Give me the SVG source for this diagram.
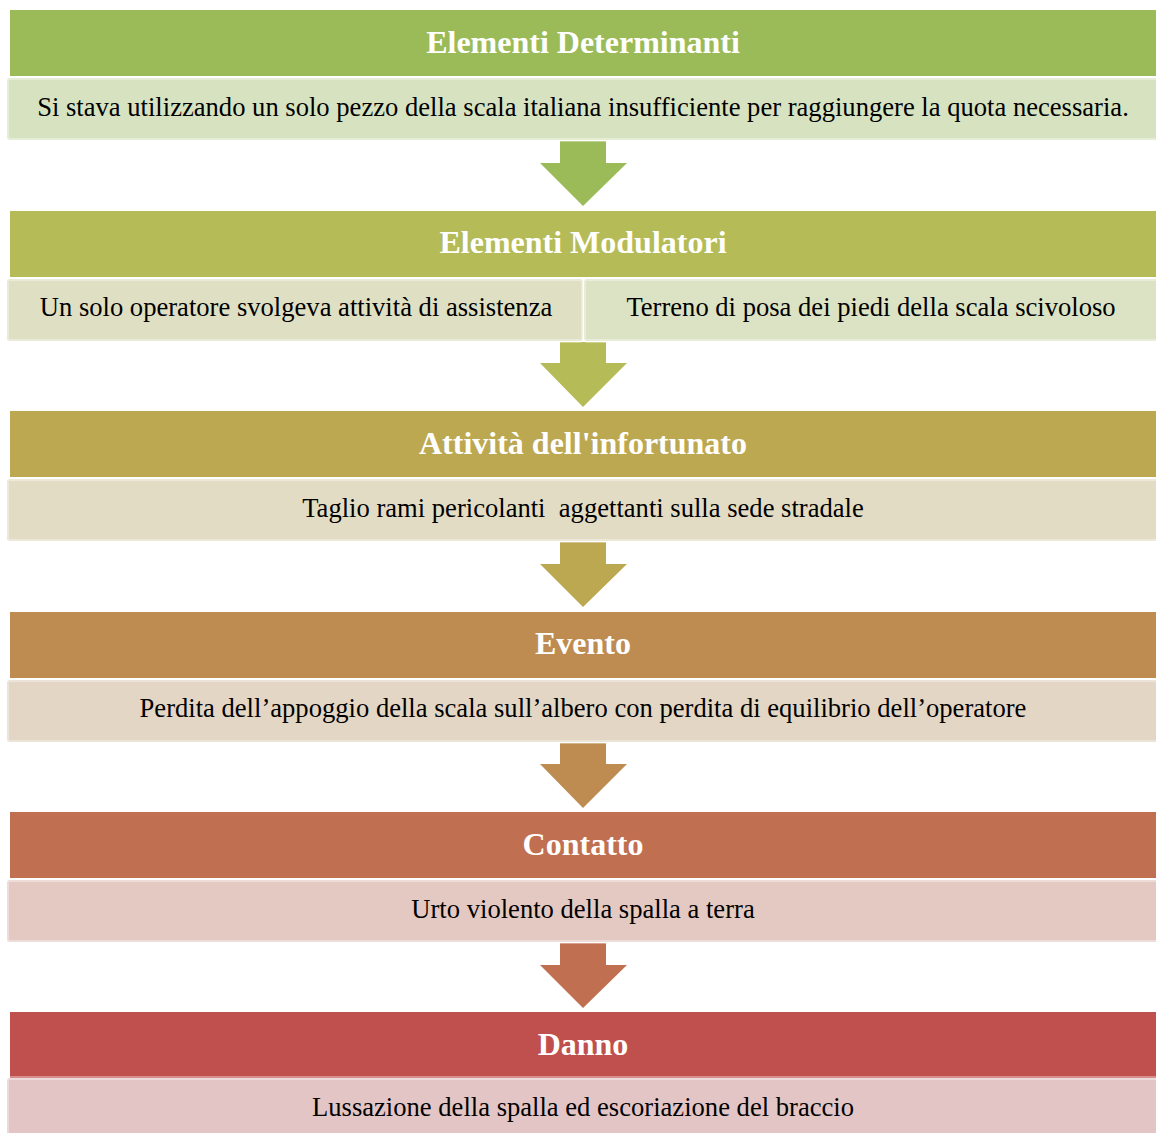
<svg xmlns="http://www.w3.org/2000/svg" width="1156" height="1133" viewBox="0 0 1156 1133">
<style>
.h{font-family:"Liberation Serif","Times New Roman",serif;font-weight:bold;font-size:32px;fill:#fff;text-anchor:middle}
.t{font-family:"Liberation Serif","Times New Roman",serif;font-size:26.6px;fill:#000;text-anchor:middle;white-space:pre}
.b{stroke-width:4;stroke-opacity:0.35;stroke:#fff}
</style>
<rect width="1156" height="1133" fill="#fff"/>
<g id="connectors">
<path d="M560 141H606V163H627L583 206L540 163H560Z" fill="#9BBB59"/>
<path d="M560 342H606V363H627L583 407L540 363H560Z" fill="#B5BB57"/>
<path d="M560 542H606V564H627L583 607L540 564H560Z" fill="#BDA852"/>
<path d="M560 743H606V764H627L583 808L540 764H560Z" fill="#BE8C50"/>
<path d="M560 943H606V965H627L583 1008L540 965H560Z" fill="#C06F50"/>
</g>
<g id="n1">
<rect x="10" y="10" width="1150" height="66" fill="#9BBB59"/>
<text class="h" x="583" y="53">Elementi Determinanti</text>
</g>
<g id="n1b">
<rect class="b" x="7" y="78" width="1155" height="62" rx="3" fill="#D7E3C0"/>
<text class="t" x="583" y="116">Si stava utilizzando un solo pezzo della scala italiana insufficiente per raggiungere la quota necessaria.</text>
</g>
<g id="n2">
<rect x="10" y="211" width="1150" height="66" fill="#B5BB57"/>
<text class="h" x="583" y="253">Elementi Modulatori</text>
</g>
<g id="n2a">
<rect class="b" x="7" y="279" width="576" height="62" rx="3" fill="#DFDFC3"/>
<text class="t" x="296" y="316">Un solo operatore svolgeva attività di assistenza</text>
</g>
<g id="n2b">
<rect class="b" x="584" y="279" width="578" height="62" rx="3" fill="#DCE2C4"/>
<text class="t" x="871" y="316">Terreno di posa dei piedi della scala scivoloso</text>
</g>
<g id="n3">
<rect x="10" y="411" width="1150" height="66" fill="#BDA852"/>
<text class="h" x="583" y="454">Attività dell'infortunato</text>
</g>
<g id="n3b">
<rect class="b" x="7" y="479" width="1155" height="62" rx="3" fill="#E3DCC4"/>
<text class="t" x="583" y="517" xml:space="preserve">Taglio rami pericolanti  aggettanti sulla sede stradale</text>
</g>
<g id="n4">
<rect x="10" y="612" width="1150" height="66" fill="#BE8C50"/>
<text class="h" x="583" y="654">Evento</text>
</g>
<g id="n4b">
<rect class="b" x="7" y="680" width="1155" height="62" rx="3" fill="#E4D6C5"/>
<text class="t" x="583" y="717">Perdita dell’appoggio della scala sull’albero con perdita di equilibrio dell’operatore</text>
</g>
<g id="n5">
<rect x="10" y="812" width="1150" height="66" fill="#C06F50"/>
<text class="h" x="583" y="855">Contatto</text>
</g>
<g id="n5b">
<rect class="b" x="7" y="880" width="1155" height="62" rx="3" fill="#E4C9C2"/>
<text class="t" x="583" y="918">Urto violento della spalla a terra</text>
</g>
<g id="n6">
<rect x="10" y="1012" width="1150" height="66" fill="#C0504D"/>
<text class="h" x="583" y="1055">Danno</text>
</g>
<g id="n6b">
<rect class="b" x="7" y="1078" width="1155" height="62" rx="3" fill="#E3C5C5"/>
<text class="t" x="583" y="1116">Lussazione della spalla ed escoriazione del braccio</text>
</g>
</svg>
